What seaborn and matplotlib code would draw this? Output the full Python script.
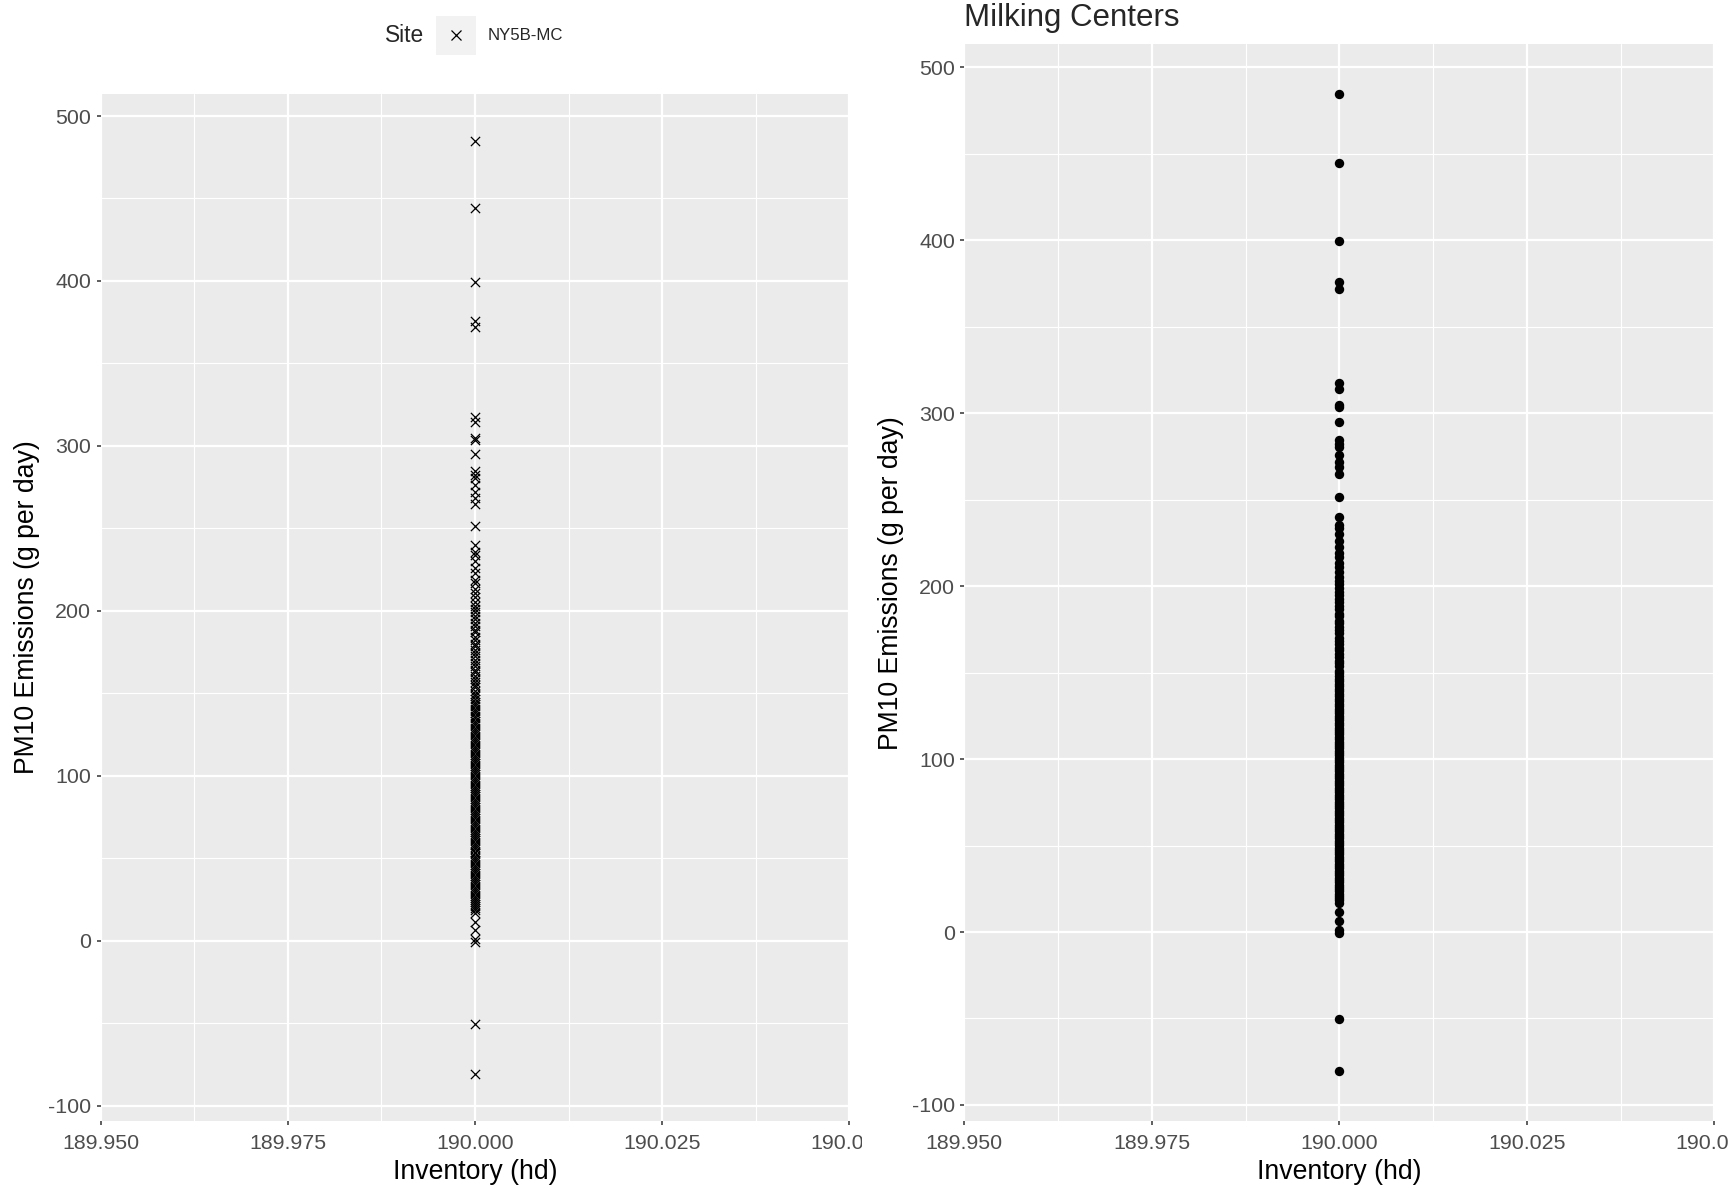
import matplotlib
matplotlib.use("Agg")
import pandas as pd
import matplotlib.pyplot as plt
import seaborn as sns
from matplotlib.patches import Rectangle
from matplotlib.lines import Line2D
from matplotlib.ticker import FixedLocator, MultipleLocator
from matplotlib.transforms import Bbox, TransformedBbox

# datos
site = "NY5B-MC"
inventory = 190.0
pm10_sparse = [484.6, 444.5, 399.5, 375.8, 372.0, 317.5, 314.2, 305.0, 303.4,
               295.2, 284.6, 282.4, 280.3, 276.1, 272.0, 268.7, 265.0, 251.4,
               240.2, 235.6, 233.7, 230.1, 226.0, 222.8, 218.9, 216.8, 213.2,
               210.9, 208.1, 205.3, 203.0, 201.1]
pm10_dense = [199.2, 196.8, 195.1, 192.4, 190.7, 188.3, 186.9, 184.0, 182.6,
              180.1, 178.8, 176.2, 174.5, 172.9, 170.3, 168.1, 166.7, 164.2,
              162.8, 160.5, 158.9, 157.0, 155.3, 153.6, 151.2, 149.8, 148.1,
              146.4, 145.0, 143.7, 142.2, 140.6, 139.1, 137.9, 136.3, 135.0,
              133.4, 132.1, 130.8, 129.2, 127.9, 126.5, 125.1, 123.6, 122.4,
              121.0, 119.7, 118.2, 117.0, 115.6, 114.3, 112.8, 111.6, 110.1,
              108.9, 107.5, 106.2, 104.8, 103.4, 102.2, 100.9, 99.5, 98.1,
              96.8, 95.6, 94.1, 92.9, 91.4, 90.2, 88.8, 87.5, 86.1, 84.9,
              83.4, 82.2, 80.8, 79.5, 78.1, 76.9, 75.4, 74.2, 72.8, 71.5,
              70.1, 68.9, 67.4, 66.2, 64.8, 63.5, 62.1, 60.9, 59.4, 58.2,
              56.8, 55.5, 54.1, 52.9, 51.4, 50.2, 48.8, 47.5, 46.1, 44.9,
              43.4, 42.2, 40.8, 39.5, 38.1, 36.9, 35.4, 34.2, 32.8, 31.5,
              30.1, 28.9, 27.4, 26.2, 24.8, 23.5, 22.1, 20.9, 19.8, 18.6]
pm10_low = [16.7, 11.4, 6.4, 1.2, -0.6, -50.4, -80.6]
pm10 = pm10_sparse + pm10_dense + pm10_low

x_ticks = [189.950, 189.975, 190.000, 190.025, 190.050]
x_labels = ["189.950", "189.975", "190.000", "190.025", "190.050"]
y_ticks = [-100, 0, 100, 200, 300, 400, 500]
y_labels = ["-100", "0", "100", "200", "300", "400", "500"]

df = pd.DataFrame({"Inventory": [inventory] * len(pm10), "PM10": pm10, "Site": site})

sns.set_style("darkgrid", {"axes.facecolor": "#EBEBEB", "grid.color": "white"})
plt.rcParams["font.family"] = ["Liberation Sans", "DejaVu Sans"]

W, H = 1732, 1188
fig = plt.figure(figsize=(W / 100, H / 100), dpi=100)
fig.patch.set_facecolor("white")
ax1 = fig.add_axes([100.5 / W, 66.8 / H, 748.9 / W, 1027.3 / H])
ax2 = fig.add_axes([964.3 / W, 66.8 / H, 750.0 / W, 1077.0 / H])

sns.scatterplot(data=df, x="Inventory", y="PM10", marker="x", color="black",
                s=44, linewidth=0.9, ax=ax1, legend=False)
sns.scatterplot(data=df, x="Inventory", y="PM10", marker="o", color="black",
                s=46, linewidth=0, ax=ax2, legend=False)

x_minor = [(a + b) / 2 for a, b in zip(x_ticks[:-1], x_ticks[1:])]
for ax in (ax1, ax2):
    ax.set_xlim(189.95, 190.05)
    ax.set_ylim(-109.4, 513.4)
    ax.xaxis.set_major_locator(FixedLocator(x_ticks))
    ax.set_xticklabels(x_labels)
    ax.yaxis.set_major_locator(FixedLocator(y_ticks))
    ax.set_yticklabels(y_labels)
    ax.xaxis.set_minor_locator(FixedLocator(x_minor))
    ax.yaxis.set_minor_locator(MultipleLocator(50))
    ax.grid(which="major", color="white", linewidth=1.6)
    ax.grid(which="minor", color="white", linewidth=0.8)
    ax.set_axisbelow(True)
    ax.tick_params(which="major", length=3.2, width=1.1, color="#333333",
                   labelsize=15.4, labelcolor="#4D4D4D",
                   bottom=True, left=True)
    ax.tick_params(axis="x", which="major", pad=6)
    ax.tick_params(axis="y", which="major", pad=3.5)
    ax.tick_params(which="minor", length=0)
    for sp in ax.spines.values():
        sp.set_visible(False)
    ax.set_xlabel("Inventory (hd)", fontsize=19.2, color="black", labelpad=4)
    ax.set_ylabel("PM10 Emissions (g per day)", fontsize=19.2, color="black", labelpad=5.6)

ax2.set_title("Milking Centers", loc="left", fontsize=22.5, pad=13)

# la etiqueta final de cada panel esta cortada en el original
for ax, cut in ((ax1, 862), (ax2, 1728)):
    clip = TransformedBbox(Bbox([[0, 0], [cut / W, 1]]), fig.transFigure)
    for lab in ax.get_xticklabels():
        lab.set_clip_box(clip)
        lab.set_clip_on(True)

# leyenda horizontal estilo ggplot
ly = 1 - 35.4 / H
fig.text(405 / W, ly, "Site", fontsize=16.4, ha="center", va="center")
fig.add_artist(Rectangle((436 / W, 1 - 55.2 / H), 40 / W, 39.7 / H,
                         transform=fig.transFigure, facecolor="#F2F2F2", edgecolor="none"))
fig.add_artist(Line2D([456 / W], [ly], transform=fig.transFigure, marker="x",
                      markersize=6.6, markeredgewidth=0.9, color="black", linestyle="none"))
fig.text(488 / W, ly, site, fontsize=12.1, ha="left", va="center")

fig.savefig("out.png", dpi=100)
